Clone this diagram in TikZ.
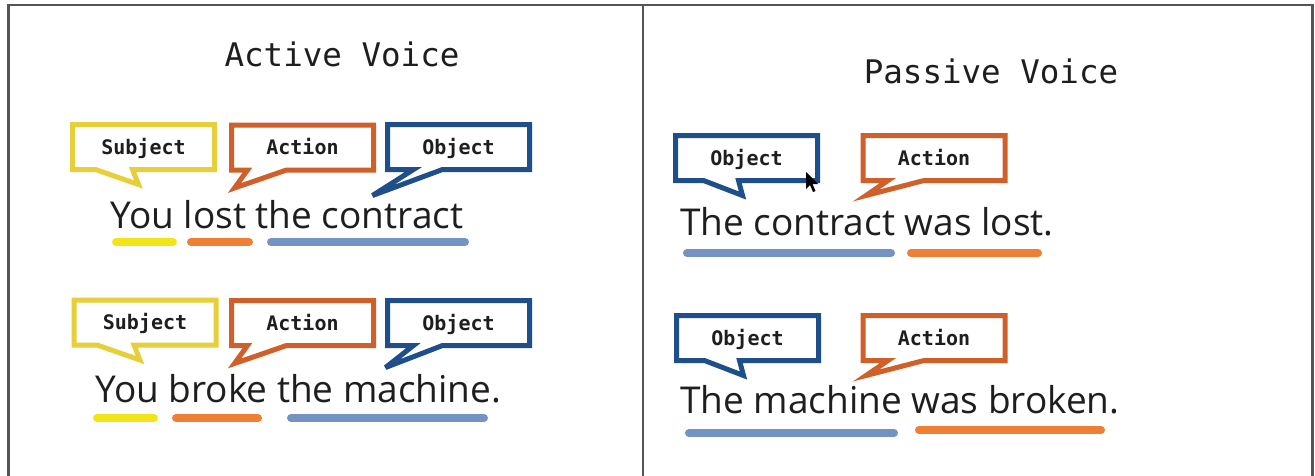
\documentclass[tikz,border=0pt]{standalone}
\usepackage{fontspec}
\setmainfont{Open Sans}
\newfontfamily\monofont{DejaVu Sans Mono}
\usetikzlibrary{calc}
\definecolor{framecol}{HTML}{555555}
\definecolor{yelbox}{HTML}{E6CF3A}
\definecolor{orabox}{HTML}{D0602A}
\definecolor{blubox}{HTML}{1F4F8A}
\definecolor{yelbar}{HTML}{F3E41A}
\definecolor{orabar}{HTML}{EE7F33}
\definecolor{blubar}{HTML}{7393C2}
\definecolor{ink}{HTML}{1E1E1E}
\tikzset{
  framestyle/.style={draw=framecol,line width=2.8pt},
  titlestyle/.style={font=\monofont\fontsize{32.5}{36}\selectfont, text=ink, anchor=base, inner sep=0pt},
  bubble/.style={minimum width=142pt, minimum height=45pt, inner sep=0pt, outer sep=0pt,
    text height=14.6pt, text depth=0pt, font=\monofont\bfseries\fontsize{20}{22}\selectfont, text=ink},
  outline/.style={line width=5pt, line join=miter, miter limit=6},
  sentence/.style={font=\fontsize{37}{40}\selectfont, text=ink, anchor=base west, inner sep=0pt},
  bar/.style={line width=8pt, line cap=round},
}
% node, colour, base-left dx, base-right dx, tip dx, tip dy (relative to south west)
\newcommand\bubblepath[6]{%
  \draw[outline,#2] (#1.north west) -- (#1.north east) -- (#1.south east)
    -- ($(#1.south west)+(#4,0)$) -- ($(#1.south west)+(#5,#6)$)
    -- ($(#1.south west)+(#3,0)$) -- (#1.south west) -- cycle;}
\begin{document}
\begin{tikzpicture}[x=1pt,y=-1pt]
\useasboundingbox (0,0) rectangle (1315,475);
\fill[white] (0,0) rectangle (1315,475);
% frame
\draw[framestyle] (8.5,476) -- (8.5,5) -- (1312.5,5) -- (1312.5,476);
\draw[framestyle] (643,5) -- (643,476);
% titles
\node[titlestyle] (tact) at (342,66) {Active Voice};
\node[titlestyle] (tpas) at (991,83) {Passive Voice};
% active row 1
\node[bubble] (s1) at (143.5,147) {Subject};
\node[bubble] (a1) at (302.5,147.5) {Action};
\node[bubble] (o1) at (458.5,147) {Object};
\bubblepath{s1}{yelbox}{23}{60}{66}{15}
\bubblepath{a1}{orabox}{16}{55}{3}{18}
\bubblepath{o1}{blubox}{26}{55}{-15}{26}
\node[sentence] (t1) at (110,228) {You lost the contract};
\draw[bar,yelbar] (116,242) -- (173,242);
\draw[bar,orabar] (191,242) -- (249,242);
\draw[bar,blubar] (271,242) -- (465,242);
% active row 2
\node[bubble] (s2) at (145,322.5) {Subject};
\node[bubble] (a2) at (302.5,323) {Action};
\node[bubble] (o2) at (458.5,323) {Object};
\bubblepath{s2}{yelbox}{23}{60}{66}{15}
\bubblepath{a2}{orabox}{16}{55}{3}{18}
\bubblepath{o2}{blubox}{26}{55}{-2}{22}
\node[sentence] (t2) at (95,402) {You broke the machine.};
\draw[bar,yelbar] (97,418) -- (154,418);
\draw[bar,orabar] (176,418) -- (258,418);
\draw[bar,blubar] (291,418) -- (484,418);
% passive row 1
\node[bubble] (po1) at (746.5,158) {Object};
\node[bubble] (pa1) at (934,158) {Action};
\bubblepath{po1}{blubox}{28}{63}{67}{15}
\bubblepath{pa1}{orabox}{25}{61}{3}{15}
\node[sentence] (t3) at (680,235) {The contract was lost.};
\draw[bar,blubar] (687,253) -- (891,253);
\draw[bar,orabar] (911,253) -- (1038,253);
% cursor
\fill[black] (806,172) -- (806,189) -- (810,185) -- (813,192) -- (815.5,191) -- (812.5,184) -- (818,184) -- cycle;
% passive row 2
\node[bubble] (po2) at (747.5,338) {Object};
\node[bubble] (pa2) at (934,338) {Action};
\bubblepath{po2}{blubox}{28}{63}{67}{15}
\bubblepath{pa2}{orabox}{25}{61}{3}{15}
\node[sentence] (t4) at (680,413) {The machine was broken.};
\draw[bar,blubar] (689,433) -- (894,433);
\draw[bar,orabar] (919,430) -- (1101,430);
\end{tikzpicture}
\end{document}
